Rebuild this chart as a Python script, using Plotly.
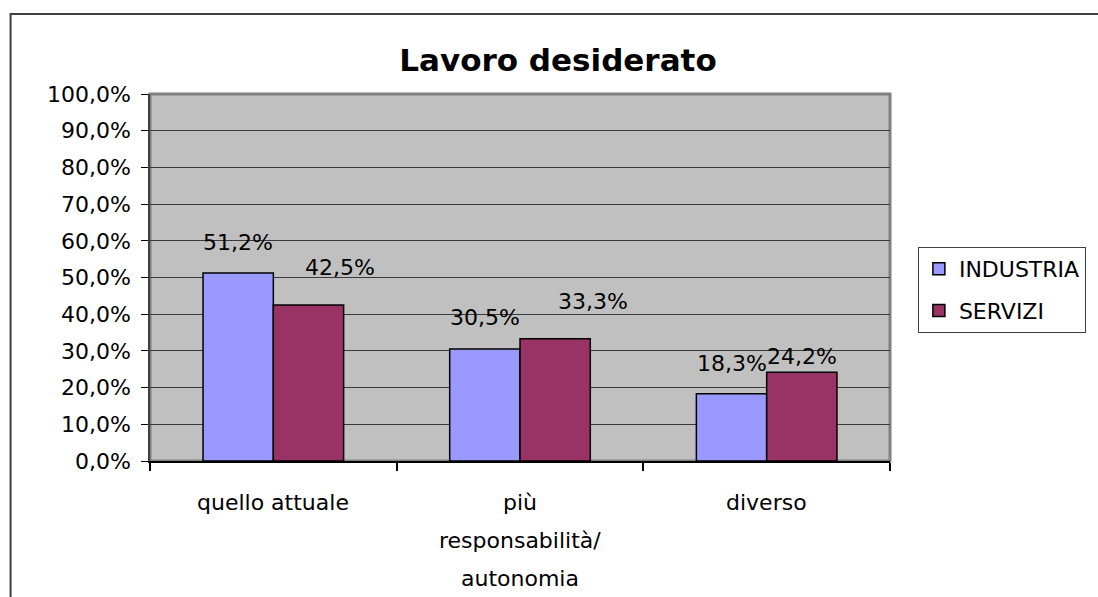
import plotly.graph_objects as go

categories = ["quello attuale", "più<br>responsabilità/<br>autonomia", "diverso"]
industria = [0.512, 0.305, 0.183]
servizi = [0.425, 0.333, 0.242]
y_ticks = [i / 10 for i in range(11)]

FONT = "DejaVu Sans"
W, H = 1098, 597
L, R, T, B = 150, 205, 94, 136
PW, PH = W - L - R, H - T - B

fig = go.Figure()
fig.add_trace(go.Bar(name="INDUSTRIA", x=categories, y=industria,
                     marker=dict(color="#9999FF", line=dict(color="black", width=1.5)),
                     legendgroup="a"))
fig.add_trace(go.Bar(name="SERVIZI", x=categories, y=servizi,
                     marker=dict(color="#993366", line=dict(color="black", width=1.5)),
                     legendgroup="b"))

annotations = []
# value labels
ind_dy = [31, 32, 30]
ser_dx = [32, 38, 0]
ser_dy = [38, 37, 16]
for i, v in enumerate(industria):
    annotations.append(dict(x=i, y=v, xref="x", yref="y", text=f"{v*100:.1f}%".replace(".", ","),
                            showarrow=False, xshift=-35, yshift=ind_dy[i],
                            font=dict(family=FONT, size=22, color="black")))
for i, v in enumerate(servizi):
    annotations.append(dict(x=i, y=v, xref="x", yref="y", text=f"{v*100:.1f}%".replace(".", ","),
                            showarrow=False, xshift=35 + ser_dx[i], yshift=ser_dy[i],
                            font=dict(family=FONT, size=22, color="black")))
# category labels
for i, c in enumerate(categories):
    for j, line in enumerate(c.split("<br>")):
        annotations.append(dict(x=i, y=0, xref="x", yref="paper", text=line, showarrow=False,
                                yanchor="middle", yshift=-41 - 38 * j,
                                font=dict(family=FONT, size=22, color="black")))

def px_x(p):
    return (p - L) / PW

def px_y(p):
    return (H - B - p) / PH

shapes = [
    # outer chart border
    dict(type="rect", xref="paper", yref="paper", x0=px_x(10), x1=px_x(1120), y0=px_y(640), y1=px_y(14),
         line=dict(color="#404040", width=2), layer="below"),
    # plot area border
    dict(type="rect", xref="paper", yref="paper", x0=0, x1=1, y0=0, y1=1,
         line=dict(color="#808080", width=3), layer="below"),
]

fig.update_layout(
    width=W, height=H,
    margin=dict(l=L, r=R, t=T, b=B),
    paper_bgcolor="white", plot_bgcolor="#C0C0C0",
    separators=",.",
    barmode="group", bargap=0.43, bargroupgap=0,
    font=dict(family=FONT, size=22, color="black"),
    title=dict(text="<b>Lavoro desiderato</b>", x=558 / W, xref="container", xanchor="center",
               y=1 - 60 / H, yref="container", yanchor="middle",
               font=dict(family=FONT, size=31, color="black")),
    legend=dict(x=px_x(921), y=px_y(247), xanchor="left", yanchor="top",
                bordercolor="#404040", borderwidth=1, bgcolor="white",
                font=dict(family=FONT, size=22, color="black"),
                tracegroupgap=10, itemwidth=30),
    annotations=annotations,
    shapes=shapes,
    showlegend=True,
)
fig.update_xaxes(type="category", showticklabels=False,
                 tickson="boundaries", ticks="outside", ticklen=8, tickcolor="black", tickwidth=1.5,
                 showline=True, linecolor="black", linewidth=1.5, showgrid=False, zeroline=False)
fig.update_yaxes(range=[0, 1], tickmode="array", tickvals=y_ticks, tickformat=".1%",
                 ticks="outside", ticklen=7, tickcolor="black", ticklabelstandoff=6,
                 showline=True, linecolor="#404040", linewidth=1.5,
                 showgrid=True, gridcolor="#3a3a3a", gridwidth=1, zeroline=False,
                 tickfont=dict(family=FONT, size=22, color="black"))

fig.write_html("out.html", config={"displayModeBar": False},
               post_script="document.body.style.margin='0';document.body.style.overflow='hidden';")
